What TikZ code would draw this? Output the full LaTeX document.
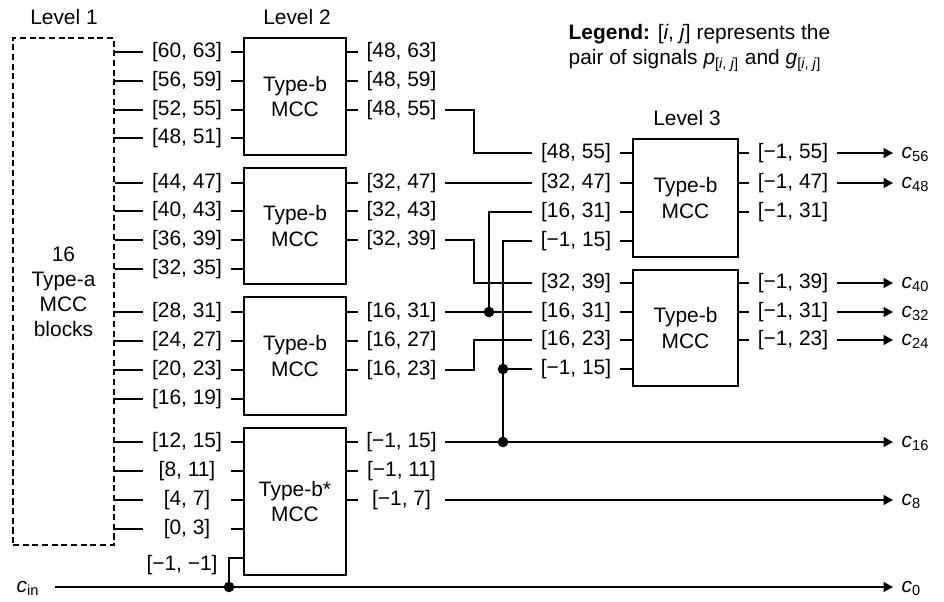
\documentclass[tikz,border=0pt]{standalone}
\usepackage{fontspec}
\setmainfont{Liberation Sans}
\usepackage{tikz}
\usetikzlibrary{arrows.meta,positioning}

\newcommand{\carry}[1]{\textit{c}\textsubscript{#1}}
\newcommand{\pairij}{[\textit{i}, \textit{j}]}

\begin{document}
\begin{tikzpicture}[
    x=0.02cm, y=-0.02cm,
    font=\fontsize{11.9}{14.3}\selectfont,
    line width=0.8pt,
    mcc/.style={
        rectangle, draw, line width=1pt,
        minimum width=2.04cm, align=center,
    },
    typea/.style={
        rectangle, draw, line width=1pt,
        dash pattern=on 3.5pt off 2pt, align=center,
    },
    sig/.style={
        inner sep=0pt, minimum width=1.72cm, align=center,
    },
    cout/.style={
        anchor=base west, inner xsep=0.16cm, yshift=-0.1cm,
    },
    arr/.style={-{Triangle[length=1.9mm, width=2mm]}},
    dot/.style={radius=3pt},
]
\useasboundingbox (0,0) rectangle (944,602);

% Titles
\node at (64,17) (t1) {Level 1};
\node at (297,17) (t2) {Level 2};
\node at (687,118) (t3) {Level 3};
\node[anchor=west, align=left, inner sep=0pt] at (568,48) (leg) {\textbf{Legend:} \pairij{} represents the\\pair of signals \textit{p}\textsubscript{\pairij} and \textit{g}\textsubscript{\pairij}};

% Level 1
\node[typea, minimum width=2.02cm, minimum height=10.14cm] at (63.5,291.5) (l1) {16\\Type-a\\MCC\\blocks};

% Level 2
\node[mcc, minimum height=2.34cm] at (295,96.5) (l2a) {Type-b\\MCC};
\node[mcc, minimum height=2.32cm] at (295,226) (l2b) {Type-b\\MCC};
\node[mcc, minimum height=2.36cm] at (295,356) (l2c) {Type-b\\MCC};
\node[mcc, minimum height=2.94cm] at (295,501.5) (l2d) {Type-b*\\MCC};

\node[sig] at (187,52) (in60) {[60, 63]};
\node[sig] at (187,81) (in56) {[56, 59]};
\node[sig] at (187,110) (in52) {[52, 55]};
\node[sig] at (187,138) (in48) {[48, 51]};
\node[sig] at (187,183) (in44) {[44, 47]};
\node[sig] at (187,211) (in40) {[40, 43]};
\node[sig] at (187,240) (in36) {[36, 39]};
\node[sig] at (187,269) (in32) {[32, 35]};
\node[sig] at (187,312) (in28) {[28, 31]};
\node[sig] at (187,341) (in24) {[24, 27]};
\node[sig] at (187,370) (in20) {[20, 23]};
\node[sig] at (187,399) (in16) {[16, 19]};
\node[sig] at (187,442) (in12) {[12, 15]};
\node[sig] at (187,471) (in8) {[8, 11]};
\node[sig] at (187,500) (in4) {[4, 7]};
\node[sig] at (187,529) (in0) {[0, 3]};
\node[sig] at (182,565) (inm1) {[−1, −1]};

\draw (l1.east |- in60) -- (in60.west) (in60.east) -- (l2a.west |- in60);
\draw (l1.east |- in56) -- (in56.west) (in56.east) -- (l2a.west |- in56);
\draw (l1.east |- in52) -- (in52.west) (in52.east) -- (l2a.west |- in52);
\draw (l1.east |- in48) -- (in48.west) (in48.east) -- (l2a.west |- in48);
\draw (l1.east |- in44) -- (in44.west) (in44.east) -- (l2b.west |- in44);
\draw (l1.east |- in40) -- (in40.west) (in40.east) -- (l2b.west |- in40);
\draw (l1.east |- in36) -- (in36.west) (in36.east) -- (l2b.west |- in36);
\draw (l1.east |- in32) -- (in32.west) (in32.east) -- (l2b.west |- in32);
\draw (l1.east |- in28) -- (in28.west) (in28.east) -- (l2c.west |- in28);
\draw (l1.east |- in24) -- (in24.west) (in24.east) -- (l2c.west |- in24);
\draw (l1.east |- in20) -- (in20.west) (in20.east) -- (l2c.west |- in20);
\draw (l1.east |- in16) -- (in16.west) (in16.east) -- (l2c.west |- in16);
\draw (l1.east |- in12) -- (in12.west) (in12.east) -- (l2d.west |- in12);
\draw (l1.east |- in8) -- (in8.west) (in8.east) -- (l2d.west |- in8);
\draw (l1.east |- in4) -- (in4.west) (in4.east) -- (l2d.west |- in4);
\draw (l1.east |- in0) -- (in0.west) (in0.east) -- (l2d.west |- in0);

\node[sig] at (401.5,52) (q4863) {[48, 63]};
\node[sig] at (401.5,81) (q4859) {[48, 59]};
\node[sig] at (401.5,110) (q4855) {[48, 55]};
\node[sig] at (401.5,183) (q3247) {[32, 47]};
\node[sig] at (401.5,211) (q3243) {[32, 43]};
\node[sig] at (401.5,240) (q3239) {[32, 39]};
\node[sig] at (401.5,312) (q1631) {[16, 31]};
\node[sig] at (401.5,341) (q1627) {[16, 27]};
\node[sig] at (401.5,370) (q1623) {[16, 23]};
\node[sig] at (401.5,442) (q015) {[−1, 15]};
\node[sig] at (401.5,471) (q011) {[−1, 11]};
\node[sig] at (401.5,500) (q07) {[−1, 7]};

\draw (l2a.east |- q4863) -- (q4863.west);
\draw (l2a.east |- q4859) -- (q4859.west);
\draw (l2a.east |- q4855) -- (q4855.west);
\draw (l2b.east |- q3247) -- (q3247.west);
\draw (l2b.east |- q3243) -- (q3243.west);
\draw (l2b.east |- q3239) -- (q3239.west);
\draw (l2c.east |- q1631) -- (q1631.west);
\draw (l2c.east |- q1627) -- (q1627.west);
\draw (l2c.east |- q1623) -- (q1623.west);
\draw (l2d.east |- q015) -- (q015.west);
\draw (l2d.east |- q011) -- (q011.west);
\draw (l2d.east |- q07) -- (q07.west);

% Level 3
\node[mcc, minimum width=2.1cm, minimum height=2.36cm] at (685.5,198) (l3a) {Type-b\\MCC};
\node[mcc, minimum width=2.1cm, minimum height=2.32cm] at (685.5,328) (l3b) {Type-b\\MCC};

\node[sig] at (576,153) (r4855) {[48, 55]};
\node[sig] at (576,183) (r3247) {[32, 47]};
\node[sig] at (576,212) (r1631a) {[16, 31]};
\node[sig] at (576,241) (r015a) {[−1, 15]};
\node[sig] at (576,283) (r3239) {[32, 39]};
\node[sig] at (576,312) (r1631b) {[16, 31]};
\node[sig] at (576,340) (r1623) {[16, 23]};
\node[sig] at (576,369) (r015b) {[−1, 15]};

\draw (r4855.east) -- (l3a.west |- r4855);
\draw (r3247.east) -- (l3a.west |- r3247);
\draw (r1631a.east) -- (l3a.west |- r1631a);
\draw (r015a.east) -- (l3a.west |- r015a);
\draw (r3239.east) -- (l3b.west |- r3239);
\draw (r1631b.east) -- (l3b.west |- r1631b);
\draw (r1623.east) -- (l3b.west |- r1623);
\draw (r015b.east) -- (l3b.west |- r015b);

\node[sig] at (793,153) (s55) {[−1, 55]};
\node[sig] at (793,183) (s47) {[−1, 47]};
\node[sig] at (793,212) (s31a) {[−1, 31]};
\node[sig] at (793,283) (s39) {[−1, 39]};
\node[sig] at (793,312) (s31b) {[−1, 31]};
\node[sig] at (793,340) (s23) {[−1, 23]};

\draw (l3a.east |- s55) -- (s55.west);
\draw (l3a.east |- s47) -- (s47.west);
\draw (l3a.east |- s31a) -- (s31a.west);
\draw (l3b.east |- s39) -- (s39.west);
\draw (l3b.east |- s31b) -- (s31b.west);
\draw (l3b.east |- s23) -- (s23.west);

% Wires between levels
\coordinate (kx) at (474,0);
\draw (q4855.east) -| (kx |- r4855) -- (r4855.west);
\draw (q3247.east) -- (r3247.west);
\draw (q3239.east) -| (kx |- r3239) -- (r3239.west);
\draw (q1623.east) -| (kx |- r1623) -- (r1623.west);
\draw (q1631.east) -- (r1631b.west);

\coordinate (j1) at (489,312);
\coordinate (j2) at (503,442);
\coordinate (j3) at (503,369);
\draw (j1) |- (r1631a.west);
\draw (j2) |- (r015a.west);
\draw (j3) -- (r015b.west);

% Carry outputs
\node[cout] at (893,153) (c56) {\carry{56}};
\node[cout] at (893,183) (c48) {\carry{48}};
\node[cout] at (893,283) (c40) {\carry{40}};
\node[cout] at (893,312) (c32) {\carry{32}};
\node[cout] at (893,340) (c24) {\carry{24}};
\node[cout] at (893,442) (c16) {\carry{16}};
\node[cout] at (893,500) (c8) {\carry{8}};
\node[cout] at (893,587) (c0) {\carry{0}};
\node[anchor=base east, inner xsep=0.3cm, yshift=-0.1cm] at (55,587) (cin) {\carry{in}};

\draw[arr] (s55.east) -- (s55.east -| c56.west);
\draw[arr] (s47.east) -- (s47.east -| c48.west);
\draw[arr] (s39.east) -- (s39.east -| c40.west);
\draw[arr] (s31b.east) -- (s31b.east -| c32.west);
\draw[arr] (s23.east) -- (s23.east -| c24.west);
\draw[arr] (q015.east) -- (q015.east -| c16.west);
\draw[arr] (q07.east) -- (q07.east -| c8.west);

\coordinate (d0) at (229,587);
\coordinate (e0) at (244,558);
\draw[arr] (cin.east |- d0) -- (d0 -| c0.west);
\draw (d0) |- (e0);

\fill (j1) circle[dot];
\fill (j2) circle[dot];
\fill (j3) circle[dot];
\fill (d0) circle[dot];

\end{tikzpicture}
\end{document}
